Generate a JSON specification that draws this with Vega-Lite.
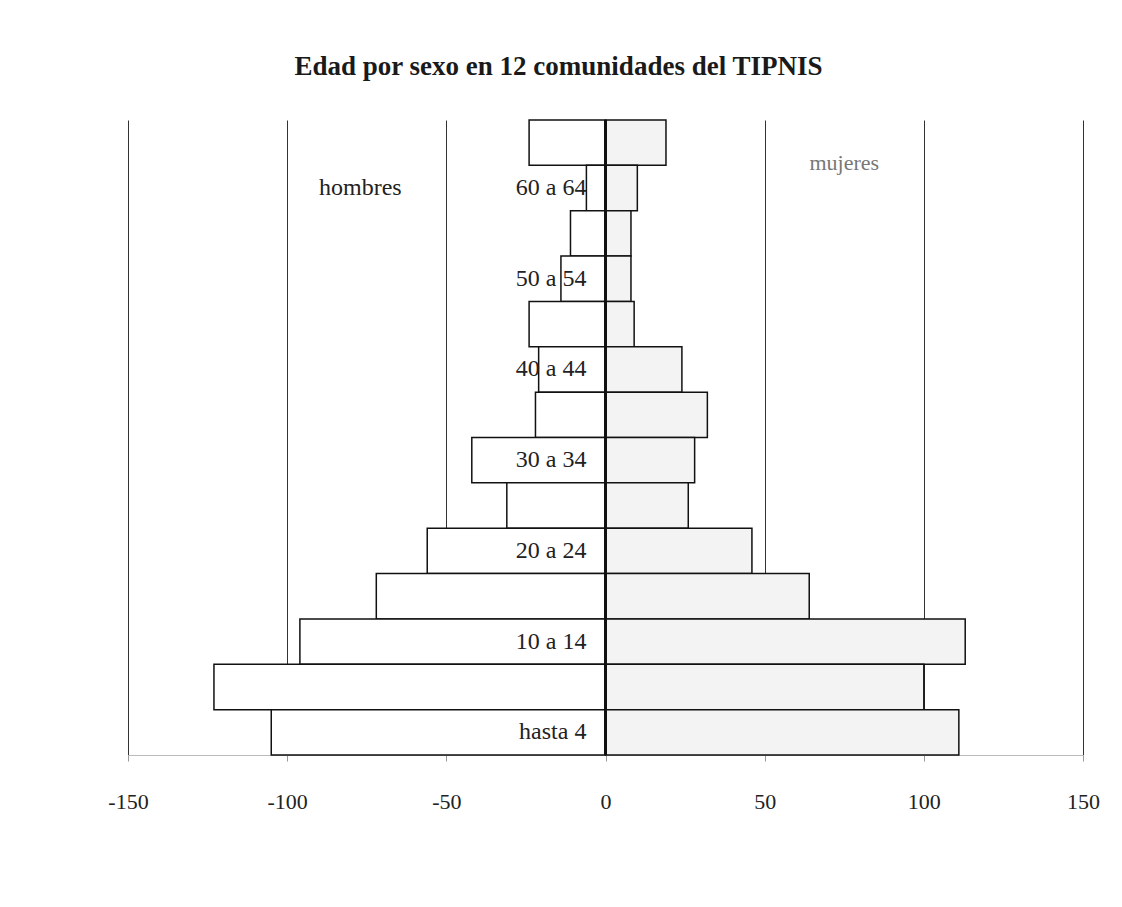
{
  "$schema": "https://vega.github.io/schema/vega-lite/v6.json",
  "width": 955,
  "height": 635,
  "autosize": {"type": "none"},
  "padding": {"left": 128, "top": 120, "right": 39, "bottom": 152},
  "background": "white",
  "title": {
    "text": "Edad por sexo en 12 comunidades del TIPNIS",
    "font": "Liberation Serif",
    "fontSize": 27,
    "fontWeight": "bold",
    "color": "#1a1a1a",
    "anchor": "middle",
    "offset": 38,
    "dx": -47
  },
  "config": {"view": {"stroke": null}},
  "data": {
    "values": [
      {"edad": "65 y más", "sexo": "hombres", "valor": -24, "etiqueta": ""},
      {"edad": "65 y más", "sexo": "mujeres", "valor": 19, "etiqueta": ""},
      {"edad": "60 a 64", "sexo": "hombres", "valor": -6, "etiqueta": "60 a 64"},
      {"edad": "60 a 64", "sexo": "mujeres", "valor": 10, "etiqueta": ""},
      {"edad": "55 a 59", "sexo": "hombres", "valor": -11, "etiqueta": ""},
      {"edad": "55 a 59", "sexo": "mujeres", "valor": 8, "etiqueta": ""},
      {"edad": "50 a 54", "sexo": "hombres", "valor": -14, "etiqueta": "50 a 54"},
      {"edad": "50 a 54", "sexo": "mujeres", "valor": 8, "etiqueta": ""},
      {"edad": "45 a 49", "sexo": "hombres", "valor": -24, "etiqueta": ""},
      {"edad": "45 a 49", "sexo": "mujeres", "valor": 9, "etiqueta": ""},
      {"edad": "40 a 44", "sexo": "hombres", "valor": -21, "etiqueta": "40 a 44"},
      {"edad": "40 a 44", "sexo": "mujeres", "valor": 24, "etiqueta": ""},
      {"edad": "35 a 39", "sexo": "hombres", "valor": -22, "etiqueta": ""},
      {"edad": "35 a 39", "sexo": "mujeres", "valor": 32, "etiqueta": ""},
      {"edad": "30 a 34", "sexo": "hombres", "valor": -42, "etiqueta": "30 a 34"},
      {"edad": "30 a 34", "sexo": "mujeres", "valor": 28, "etiqueta": ""},
      {"edad": "25 a 29", "sexo": "hombres", "valor": -31, "etiqueta": ""},
      {"edad": "25 a 29", "sexo": "mujeres", "valor": 26, "etiqueta": ""},
      {"edad": "20 a 24", "sexo": "hombres", "valor": -56, "etiqueta": "20 a 24"},
      {"edad": "20 a 24", "sexo": "mujeres", "valor": 46, "etiqueta": ""},
      {"edad": "15 a 19", "sexo": "hombres", "valor": -72, "etiqueta": ""},
      {"edad": "15 a 19", "sexo": "mujeres", "valor": 64, "etiqueta": ""},
      {"edad": "10 a 14", "sexo": "hombres", "valor": -96, "etiqueta": "10 a 14"},
      {"edad": "10 a 14", "sexo": "mujeres", "valor": 113, "etiqueta": ""},
      {"edad": "5 a 9", "sexo": "hombres", "valor": -123, "etiqueta": ""},
      {"edad": "5 a 9", "sexo": "mujeres", "valor": 100, "etiqueta": ""},
      {"edad": "hasta 4", "sexo": "hombres", "valor": -105, "etiqueta": "hasta 4"},
      {"edad": "hasta 4", "sexo": "mujeres", "valor": 111, "etiqueta": ""}
    ]
  },
  "layer": [
    {
      "mark": {"type": "bar", "stroke": "#111111", "strokeWidth": 1.5},
      "encoding": {
        "x": {
          "field": "valor",
          "type": "quantitative",
          "scale": {"domain": [-150, 150], "nice": false, "zero": false},
          "axis": {
            "title": null,
            "values": [-150, -100, -50, 0, 50, 100, 150],
            "labelExpr": "'' + datum.value",
            "grid": true,
            "gridColor": "#333333",
            "gridWidth": 1,
            "domainColor": "#bbbbbb",
            "tickColor": "#999999",
            "tickSize": 6,
            "labelPadding": 30,
            "labelFont": "Liberation Serif",
            "labelFontSize": 22,
            "labelColor": "#222222",
            "labelFlush": false,
            "labelOverlap": false
          }
        },
        "y": {
          "field": "edad",
          "type": "nominal",
          "sort": ["65 y más", "60 a 64", "55 a 59", "50 a 54", "45 a 49", "40 a 44", "35 a 39", "30 a 34", "25 a 29", "20 a 24", "15 a 19", "10 a 14", "5 a 9", "hasta 4"],
          "scale": {"paddingInner": 0, "paddingOuter": 0},
          "axis": null
        },
        "fill": {
          "field": "sexo",
          "type": "nominal",
          "scale": {"domain": ["hombres", "mujeres"], "range": ["#ffffff", "#f3f3f3"]},
          "legend": null
        }
      }
    },
    {
      "mark": {"type": "rule", "color": "#111111", "strokeWidth": 1.5},
      "encoding": {"x": {"datum": 0}}
    },
    {
      "mark": {"type": "text", "align": "right", "baseline": "middle", "font": "Liberation Serif", "fontSize": 24, "color": "#222222"},
      "encoding": {
        "x": {"datum": -6},
        "y": {"field": "edad", "type": "nominal", "sort": ["65 y más", "60 a 64", "55 a 59", "50 a 54", "45 a 49", "40 a 44", "35 a 39", "30 a 34", "25 a 29", "20 a 24", "15 a 19", "10 a 14", "5 a 9", "hasta 4"]},
        "text": {"field": "etiqueta"}
      }
    },
    {
      "data": {"values": [{}]},
      "mark": {"type": "text", "align": "center", "baseline": "middle", "font": "Liberation Serif", "fontSize": 24, "color": "#222222"},
      "encoding": {
        "x": {"datum": -77},
        "y": {"datum": "60 a 64"},
        "text": {"value": "hombres"}
      }
    },
    {
      "data": {"values": [{}]},
      "mark": {"type": "text", "align": "center", "baseline": "middle", "font": "Liberation Serif", "fontSize": 22, "color": "#777777", "dy": -25},
      "encoding": {
        "x": {"datum": 75},
        "y": {"datum": "60 a 64"},
        "text": {"value": "mujeres"}
      }
    }
  ]
}
